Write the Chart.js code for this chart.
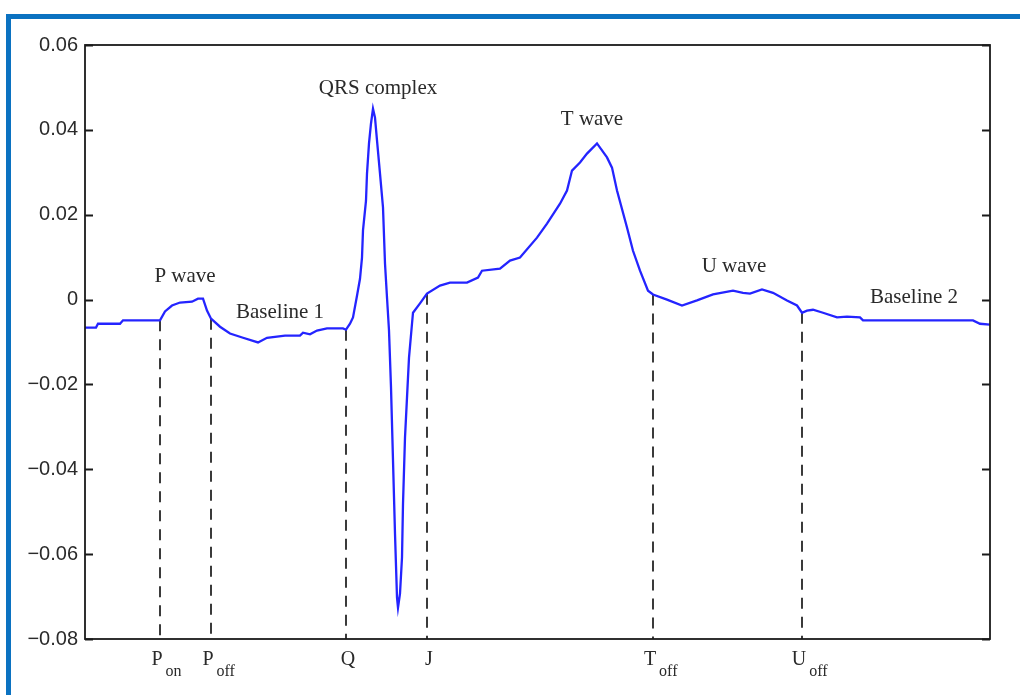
<!DOCTYPE html>
<html>
<head>
<meta charset="utf-8">
<script src="https://cdn.jsdelivr.net/npm/chart.js@4.4.1/dist/chart.umd.min.js"></script>
<style>
  html, body { margin: 0; padding: 0; background: #ffffff; }
  #wrap { position: relative; width: 1020px; height: 695px; overflow: hidden; }
  #wrap canvas { position: absolute; left: 0; top: 0; }
  .edge { position: absolute; background: #0b72c1; }
  #edgeTop { left: 6px; top: 14px; width: 1014px; height: 5px; }
  #edgeLeft { left: 6px; top: 14px; width: 5px; height: 681px; }
</style>
</head>
<body>
<div id="wrap">
  <canvas id="ecg" width="1020" height="695"></canvas>
  <div class="edge" id="edgeTop"></div>
  <div class="edge" id="edgeLeft"></div>
</div>
<script>
// One heartbeat: sample position and amplitude
const sampleX = [
  0, 11, 13, 35, 38, 75, 80, 87, 95, 107, 113, 118, 122, 126, 135, 145, 158, 173, 182, 200,
  215, 218, 225, 232, 242, 258, 261, 265, 268, 272, 275, 277, 278, 281, 282, 284, 286, 288, 290, 292,
  295, 298, 300, 302, 304, 306, 308, 310, 312, 313, 315, 317, 318, 320, 322, 324, 327, 328, 335, 342,
  355, 365, 382, 393, 397, 415, 425, 435, 452, 462, 475, 482, 487, 495, 502, 512, 522, 527, 532, 542,
  548, 555, 563, 568, 582, 597, 612, 628, 648, 658, 665, 677, 688, 702, 712, 717, 722, 728, 738, 752,
  762, 775, 778, 888, 895, 905
];
const amplitude = [
  -0.0066, -0.0066, -0.0057, -0.0057, -0.0049, -0.0049, -0.0028, -0.0014, -0.0007, -0.0005,
  0.0002, 0.0002, -0.0026, -0.0045, -0.0064, -0.0080, -0.0090, -0.0101, -0.0090, -0.0085,
  -0.0085, -0.0078, -0.0082, -0.0073, -0.0068, -0.0068, -0.0071, -0.0057, -0.0042, 0.0009,
  0.0049, 0.0099, 0.0163, 0.0233, 0.0297, 0.0368, 0.0415, 0.0450, 0.0429, 0.0375,
  0.0297, 0.0217, 0.0085, 0.0005, -0.0073, -0.0207, -0.0379, -0.0552, -0.0702, -0.0726,
  -0.0693, -0.0608, -0.0481, -0.0325, -0.0231, -0.0137, -0.0057, -0.0031, -0.0009, 0.0014,
  0.0033, 0.0040, 0.0040, 0.0052, 0.0068, 0.0073, 0.0092, 0.0099, 0.0146, 0.0179,
  0.0226, 0.0257, 0.0304, 0.0323, 0.0344, 0.0368, 0.0335, 0.0311, 0.0257, 0.0170,
  0.0115, 0.0068, 0.0021, 0.0012, 0.0000, -0.0014, -0.0002, 0.0012, 0.0021, 0.0016,
  0.0014, 0.0024, 0.0016, -0.0002, -0.0014, -0.0031, -0.0026, -0.0024, -0.0031, -0.0042,
  -0.0040, -0.0042, -0.0049, -0.0049, -0.0057, -0.0059
];

// Fiducial points: name, subscript, position and amplitude where they meet the trace
const markerName = ['P', 'P', 'Q', 'J', 'T', 'U'];
const markerSub = ['on', 'off', '', '', 'off', 'off'];
const markerX = [75, 126, 261, 342, 568, 717];
const markerY = [-0.0049, -0.0045, -0.0071, 0.0014, 0.0012, -0.0031];

// Wave names and where they sit
const waveName = ['P wave', 'Baseline 1', 'QRS complex', 'T wave', 'U wave', 'Baseline 2'];
const waveX = [100, 195, 293, 507, 649, 829];
const waveY = [0.0054, -0.0031, 0.0497, 0.0424, 0.0078, 0.0005];

// Amplitude axis
const yTicks = [-0.08, -0.06, -0.04, -0.02, 0, 0.02, 0.04, 0.06];
const xRange = [0, 905];

const fmtTick = v => {
  if (Math.abs(v) < 1e-9) return '0';
  const s = Math.abs(v).toFixed(2);
  return v < 0 ? '\u2212' + s : s;
};

const datasets = [{
  data: sampleX.map((x, i) => ({ x, y: amplitude[i] })),
  borderColor: '#2424ff',
  borderWidth: 2.3,
  pointRadius: 0,
  tension: 0,
  order: 0
}];
markerX.forEach((x, i) => {
  datasets.push({
    data: [{ x, y: markerY[i] }, { x, y: yTicks[0] }],
    borderColor: '#3a3a3a',
    borderWidth: 2,
    borderDash: [11, 8],
    pointRadius: 0,
    order: 1
  });
});

const frameAndText = {
  id: 'frameAndText',
  afterDatasetsDraw(chart) {
    const { ctx, chartArea: a, scales: { x, y } } = chart;
    ctx.save();
    // axes box
    ctx.strokeStyle = '#1a1a1a';
    ctx.lineWidth = 1.8;
    ctx.strokeRect(a.left, a.top, a.right - a.left, a.bottom - a.top);
    // inward tick marks on both vertical sides
    ctx.beginPath();
    yTicks.forEach(v => {
      const py = Math.round(y.getPixelForValue(v)) + 0.5;
      ctx.moveTo(a.left, py); ctx.lineTo(a.left + 8, py);
      ctx.moveTo(a.right, py); ctx.lineTo(a.right - 8, py);
    });
    ctx.stroke();

    // wave names
    ctx.fillStyle = '#2a2a2a';
    ctx.font = '21px "Liberation Serif", "Times New Roman", serif';
    ctx.textAlign = 'center';
    ctx.textBaseline = 'middle';
    waveName.forEach((t, i) => {
      ctx.fillText(t, x.getPixelForValue(waveX[i]), y.getPixelForValue(waveY[i]));
    });

    // fiducial labels under the axis
    ctx.textBaseline = 'alphabetic';
    markerX.forEach((mx, i) => {
      const px = x.getPixelForValue(mx);
      const base = a.bottom + 26;
      ctx.font = '20px "Liberation Serif", "Times New Roman", serif';
      if (markerSub[i]) {
        const w = ctx.measureText(markerName[i]).width;
        ctx.textAlign = 'center';
        ctx.fillText(markerName[i], px - 3, base);
        ctx.font = '16px "Liberation Serif", "Times New Roman", serif';
        ctx.textAlign = 'left';
        ctx.fillText(markerSub[i], px - 3 + w / 2 + 3, base + 11);
      } else {
        ctx.textAlign = 'center';
        ctx.fillText(markerName[i], px + 2, base);
      }
    });
    ctx.restore();
  }
};

new Chart(document.getElementById('ecg'), {
  type: 'line',
  data: { datasets },
  options: {
    responsive: false,
    animation: false,
    devicePixelRatio: 1,
    layout: { padding: { left: 0, right: 30, top: 45, bottom: 0 } },
    plugins: { legend: { display: false }, tooltip: { enabled: false } },
    scales: {
      x: {
        type: 'linear',
        min: xRange[0],
        max: xRange[1],
        ticks: { display: false },
        grid: { display: false, drawTicks: false },
        border: { display: false },
        afterFit: s => { s.height = 56; }
      },
      y: {
        type: 'linear',
        min: yTicks[0],
        max: yTicks[yTicks.length - 1],
        afterBuildTicks: s => { s.ticks = yTicks.map(v => ({ value: v })); },
        ticks: {
          callback: v => fmtTick(v),
          font: { family: '"Liberation Sans", Arial, sans-serif', size: 20 },
          color: '#2a2a2a',
          padding: 7
        },
        grid: { display: false, drawTicks: false },
        border: { display: false },
        afterFit: s => { s.width = 85; }
      }
    }
  },
  plugins: [frameAndText]
});
</script>
</body>
</html>
